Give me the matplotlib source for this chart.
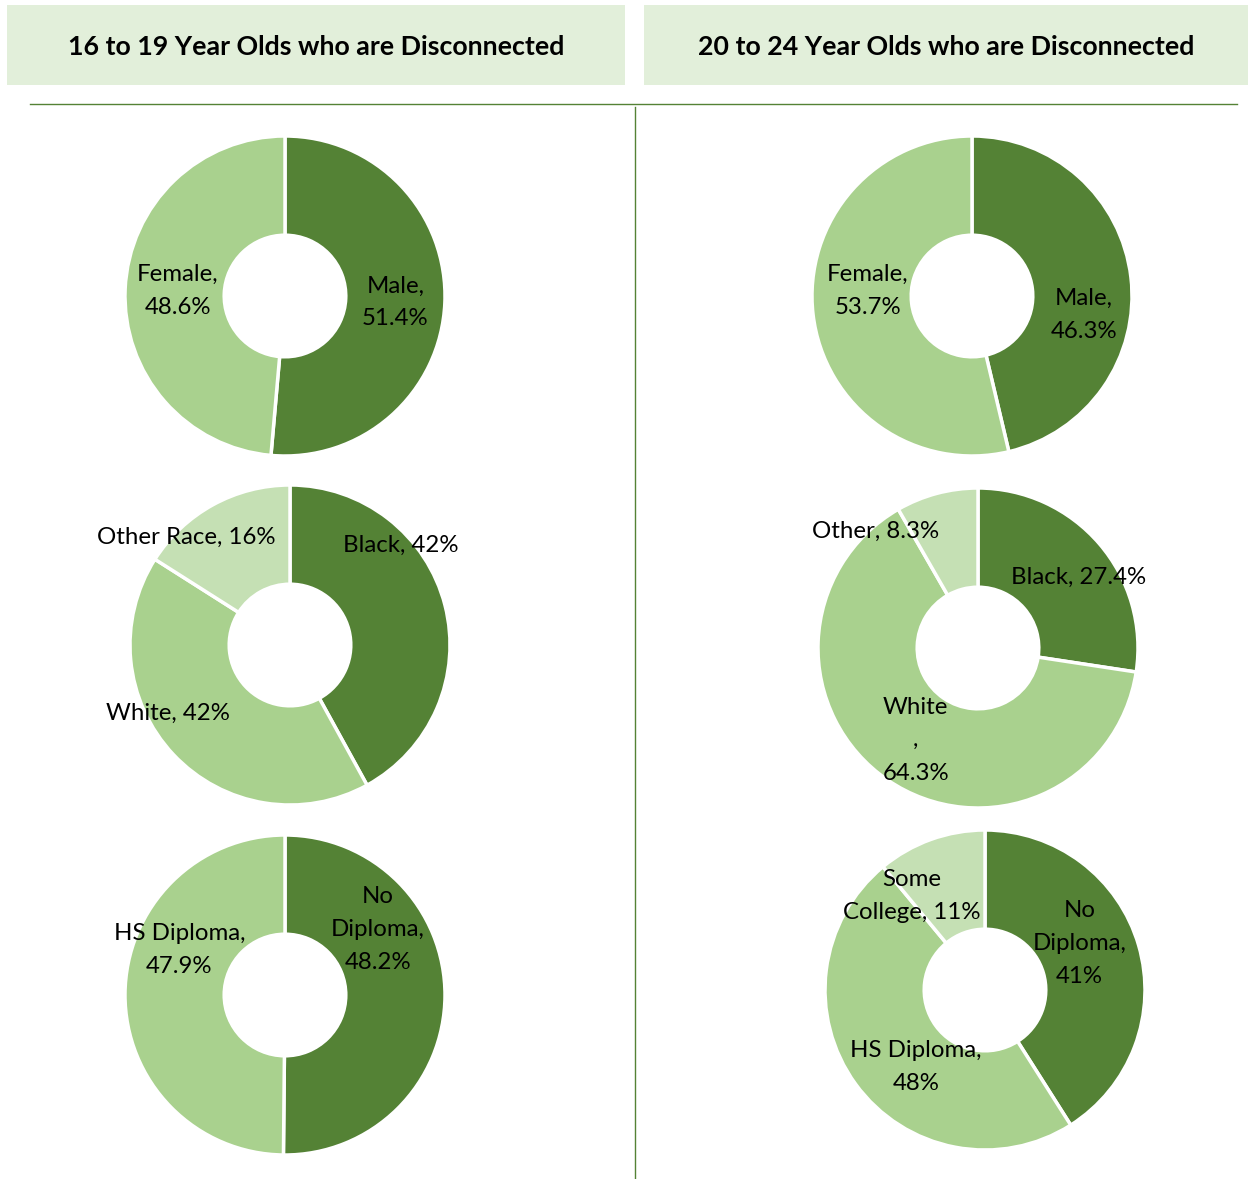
import matplotlib
matplotlib.use("Agg")
import matplotlib.pyplot as plt
from matplotlib.patches import Rectangle
from matplotlib.lines import Line2D

plt.rcParams["font.family"] = ["Lato", "DejaVu Sans"]

W, H = 1249, 1179

DARK = "#548235"
LIGHT = "#A9D18E"
PALE = "#C5E0B4"
HEADER_BG = "#E2EFDA"

# ---- data ----
GENDER_16_LABELS = ["Male,\n51.4%", "Female,\n48.6%"]
GENDER_16_VALUES = [51.4, 48.6]
RACE_16_LABELS = ["Black, 42%", "White, 42%", "Other Race, 16%"]
RACE_16_VALUES = [42, 42, 16]
EDU_16_LABELS = ["No\nDiploma,\n48.2%", "HS Diploma,\n47.9%"]
EDU_16_VALUES = [48.2, 47.9]

GENDER_20_LABELS = ["Male,\n46.3%", "Female,\n53.7%"]
GENDER_20_VALUES = [46.3, 53.7]
RACE_20_LABELS = ["Black, 27.4%", "White\n,\n64.3%", "Other, 8.3%"]
RACE_20_VALUES = [27.4, 64.3, 8.3]
EDU_20_LABELS = ["No\nDiploma,\n41%", "HS Diploma,\n48%", "Some\nCollege, 11%"]
EDU_20_VALUES = [41, 48, 11]

HEADERS = ["16 to 19 Year Olds who are Disconnected",
           "20 to 24 Year Olds who are Disconnected"]

# (values, labels, colors, center px, label offsets in radius units)
charts = [
    (GENDER_16_VALUES, GENDER_16_LABELS, [DARK, LIGHT], (285, 296),
     [(0.69, -0.04), (-0.67, 0.03)]),
    (RACE_16_VALUES, RACE_16_LABELS, [DARK, LIGHT, PALE], (290, 645),
     [(0.69, 0.62), (-0.76, -0.43), (-0.65, 0.67)]),
    (EDU_16_VALUES, EDU_16_LABELS, [DARK, LIGHT], (285, 995),
     [(0.58, 0.41), (-0.66, 0.28)]),
    (GENDER_20_VALUES, GENDER_20_LABELS, [DARK, LIGHT], (972, 296),
     [(0.70, -0.12), (-0.65, 0.03)]),
    (RACE_20_VALUES, RACE_20_LABELS, [DARK, LIGHT, PALE], (978, 648),
     [(0.63, 0.44), (-0.39, -0.58), (-0.64, 0.73)]),
    (EDU_20_VALUES, EDU_20_LABELS, [DARK, LIGHT, PALE], (985, 990),
     [(0.59, 0.29), (-0.43, -0.48), (-0.46, 0.59)]),
]

R = 160

fig = plt.figure(figsize=(W / 100, H / 100), dpi=100)
fig.patch.set_facecolor("white")


def px_box(x0, y0, x1, y1):
    return [x0 / W, 1 - y1 / H, (x1 - x0) / W, (y1 - y0) / H]


# header boxes
for (x0, x1), text in zip([(7, 625), (644, 1248)], HEADERS):
    b = px_box(x0, 5, x1, 85)
    fig.patches.append(Rectangle((b[0], b[1]), b[2], b[3], transform=fig.transFigure,
                                 facecolor=HEADER_BG, edgecolor="none"))
    fig.text(b[0] + b[2] / 2, 1 - 47 / H, text, ha="center", va="center",
             fontsize=19.3, fontweight="bold", color="black")

# divider lines
fig.lines.append(Line2D([30 / W, 1237 / W], [1 - 104 / H, 1 - 104 / H],
                        transform=fig.transFigure, color=DARK, linewidth=1))
fig.lines.append(Line2D([635 / W, 635 / W], [1 - 107 / H, 1 - 1178 / H],
                        transform=fig.transFigure, color=DARK, linewidth=1))

for values, labels, colors, (cx, cy), offsets in charts:
    ax = fig.add_axes(px_box(cx - R, cy - R, cx + R, cy + R))
    ax.pie(values, colors=colors, startangle=90, counterclock=False, radius=1,
           wedgeprops=dict(width=0.62, edgecolor="white", linewidth=2.5))
    ax.set_xlim(-1, 1)
    ax.set_ylim(-1, 1)
    ax.axis("off")
    for lab, (dx, dy) in zip(labels, offsets):
        ax.text(dx, dy, lab, ha="center", va="center", fontsize=17.3,
                color="black", linespacing=1.7, clip_on=False)

fig.savefig("out.png", dpi=100)
